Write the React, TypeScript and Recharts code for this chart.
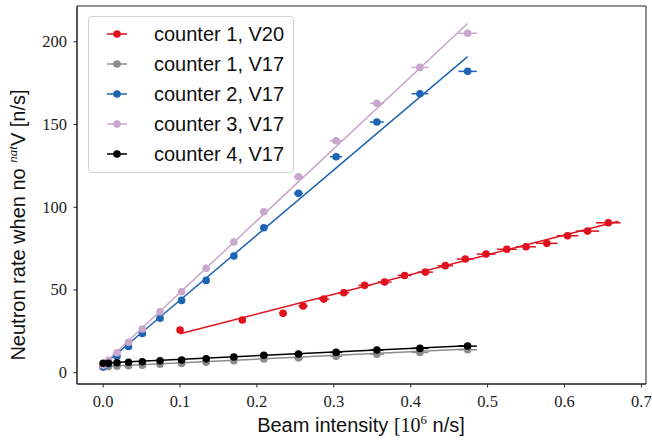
import React from "react";
import {
  ComposedChart,
  Scatter,
  ErrorBar,
  XAxis,
  YAxis,
  ReferenceArea,
} from "recharts";

// beam intensity [10^6 n/s] of the V17 runs (shared by counters 1-4)
const beamV17 = [0, 0.007, 0.018, 0.033, 0.051, 0.074, 0.102, 0.134, 0.17, 0.209, 0.254, 0.303, 0.356, 0.412, 0.474];
const beamErrV17 = [0, 0, 0, 0.001, 0.001, 0.002, 0.003, 0.003, 0.004, 0.005, 0.006, 0.008, 0.009, 0.011, 0.012];
const counter1V17 = [3.6, 3.7, 4.0, 4.3, 4.6, 5.1, 5.6, 6.3, 7.3, 8.3, 8.9, 9.9, 11.2, 12.3, 13.9];
const counter2V17 = [3.5, 5.5, 10.0, 15.9, 23.7, 32.9, 43.7, 55.8, 70.5, 87.6, 108.4, 130.5, 151.5, 168.6, 182.1];
const counter3V17 = [4.5, 7.5, 12.1, 18.4, 26.4, 36.8, 48.9, 63.1, 79.0, 97.3, 118.4, 140.2, 162.8, 184.5, 205.1];
const counter4V17 = [5.7, 5.7, 6.0, 6.3, 6.6, 7.2, 7.7, 8.4, 9.5, 10.6, 11.3, 12.3, 13.7, 14.7, 16.1];

// V20 run, counter 1
const beamV20 = [0.1, 0.181, 0.234, 0.26, 0.287, 0.313, 0.34, 0.366, 0.392, 0.419, 0.445, 0.471, 0.498, 0.525, 0.55, 0.577, 0.604, 0.63, 0.657];
const beamErrV20 = [0.003, 0.004, 0.005, 0.006, 0.007, 0.007, 0.008, 0.009, 0.009, 0.01, 0.01, 0.011, 0.012, 0.013, 0.013, 0.014, 0.014, 0.015, 0.016];
const counter1V20 = [25.8, 31.9, 35.9, 40.3, 44.5, 48.3, 52.8, 54.8, 58.8, 60.8, 64.7, 68.7, 71.7, 74.6, 76.1, 78.2, 82.8, 85.6, 90.6];

// linear fits, start/end points
const fitXV17 = [0, 0.474];
const fitXV20 = [0.1, 0.67];
const fitC1V20 = [23.6, 91.5];
const fitC1V17 = [3.8, 14.3];
const fitC2V17 = [4.5, 191];
const fitC3V17 = [5.0, 211];
const fitC4V17 = [5.9, 16.3];

const xTicks = [0, 0.1, 0.2, 0.3, 0.4, 0.5, 0.6, 0.7];
const yTicks = [0, 50, 100, 150, 200];

const toPoints = (xs: number[], ys: number[], es?: number[]) =>
  xs.map((x, i) => ({ x, y: ys[i], xerr: es ? es[i] : 0 }));

const series = [
  { name: "counter 1, V20", color: "#e0101c", pts: toPoints(beamV20, counter1V20, beamErrV20), fit: toPoints(fitXV20, fitC1V20) },
  { name: "counter 1, V17", color: "#8c8c8c", pts: toPoints(beamV17, counter1V17, beamErrV17), fit: toPoints(fitXV17, fitC1V17) },
  { name: "counter 2, V17", color: "#1d64b3", pts: toPoints(beamV17, counter2V17, beamErrV17), fit: toPoints(fitXV17, fitC2V17) },
  { name: "counter 3, V17", color: "#c9a6cc", pts: toPoints(beamV17, counter3V17, beamErrV17), fit: toPoints(fitXV17, fitC3V17) },
  { name: "counter 4, V17", color: "#000000", pts: toPoints(beamV17, counter4V17, beamErrV17), fit: toPoints(fitXV17, fitC4V17) },
];

const SANS = "'Liberation Sans', Arial, sans-serif";
const SERIF = "'Liberation Serif', 'DejaVu Serif', serif";

const XTick = ({ x, payload }: any) => (
  <text x={x} y={407} textAnchor="middle" fontFamily={SERIF} fontSize={16.5} fill="#222">
    {payload.value.toFixed(1)}
  </text>
);

const YTick = ({ y, payload }: any) => (
  <text x={67} y={y + 5.5} textAnchor="end" fontFamily={SERIF} fontSize={16.5} fill="#222">
    {payload.value}
  </text>
);

const YLabel = () => (
  <text
    transform="translate(25,225) rotate(-90)"
    textAnchor="middle"
    fontFamily={SANS}
    fontSize={20}
    fill="#111"
  >
    <tspan>Neutron rate when no </tspan>
    <tspan fontFamily={SERIF} fontStyle="italic" fontSize={13} dy={-8}>nat</tspan>
    <tspan dy={8}>V [n/s]</tspan>
  </text>
);

const XLabel = () => (
  <text x={361} y={432} textAnchor="middle" fontFamily={SANS} fontSize={20} fill="#111">
    <tspan>Beam intensity </tspan>
    <tspan fontFamily={SERIF}>[10</tspan>
    <tspan fontFamily={SERIF} fontSize={13} dy={-8}>6</tspan>
    <tspan dy={8}> n/s]</tspan>
  </text>
);

const LegendBox = () => (
  <div
    style={{
      position: "absolute",
      left: 88,
      top: 16,
      width: 206,
      height: 157,
      border: "1px solid #d0d0d0",
      borderRadius: 4,
      background: "rgba(255,255,255,0.85)",
      boxSizing: "border-box",
      fontFamily: SANS,
      fontSize: 20,
      color: "#111",
    }}
  >
    {series.map((s, i) => (
      <div key={s.name} style={{ position: "absolute", left: 0, top: 2 + i * 30, height: 30, display: "flex", alignItems: "center" }}>
        <svg width={60} height={30} style={{ display: "block" }}>
          <line x1={18} x2={38} y1={15} y2={15} stroke={s.color} strokeWidth={1.5} />
          <circle cx={28} cy={15} r={3.8} fill={s.color} />
        </svg>
        <span style={{ marginLeft: 5, whiteSpace: "nowrap" }}>{s.name}</span>
      </div>
    ))}
  </div>
);

const Dot = (color: string) => (p: any) =>
  p.cx == null ? <g /> : <circle cx={p.cx} cy={p.cy} r={3.8} fill={color} />;

const App = () => (
  <div style={{ position: "relative", width: 652, height: 441, background: "#fff" }}>
    <style>{`body{margin:0}`}</style>
    <ComposedChart width={652} height={441} margin={{ top: 6, right: 6, left: 0, bottom: 0 }}>
      <XAxis
        type="number"
        dataKey="x"
        domain={[-0.034, 0.706]}
        ticks={xTicks}
        allowDataOverflow
        height={57}
        tickSize={3.5}
        tick={<XTick />}
        stroke="#222"
        label={{ content: () => <XLabel /> }}
      />
      <YAxis
        type="number"
        dataKey="y"
        domain={[-6.8, 221.6]}
        ticks={yTicks}
        allowDataOverflow
        width={77}
        tickSize={3.5}
        tick={<YTick />}
        stroke="#222"
        label={{ content: () => <YLabel /> }}
      />
      <ReferenceArea x1={-0.034} x2={0.706} y1={-6.8} y2={221.6} fill="none" stroke="#222" strokeWidth={1} />
      {series.map((s) => (
        <Scatter
          key={s.name + "-fit"}
          data={s.fit}
          line={{ stroke: s.color, strokeWidth: 1.5 }}
          lineJointType="linear"
          stroke={s.color}
          shape={() => <g />}
          legendType="none"
          isAnimationActive={false}
        />
      ))}
      {series.map((s) => (
        <Scatter
          key={s.name}
          name={s.name}
          data={s.pts}
          fill={s.color}
          shape={Dot(s.color)}
          isAnimationActive={false}
        >
          <ErrorBar dataKey="xerr" direction="x" width={0} stroke={s.color} strokeWidth={1.5} isAnimationActive={false} />
        </Scatter>
      ))}
    </ComposedChart>
    <LegendBox />
  </div>
);

export default App;
